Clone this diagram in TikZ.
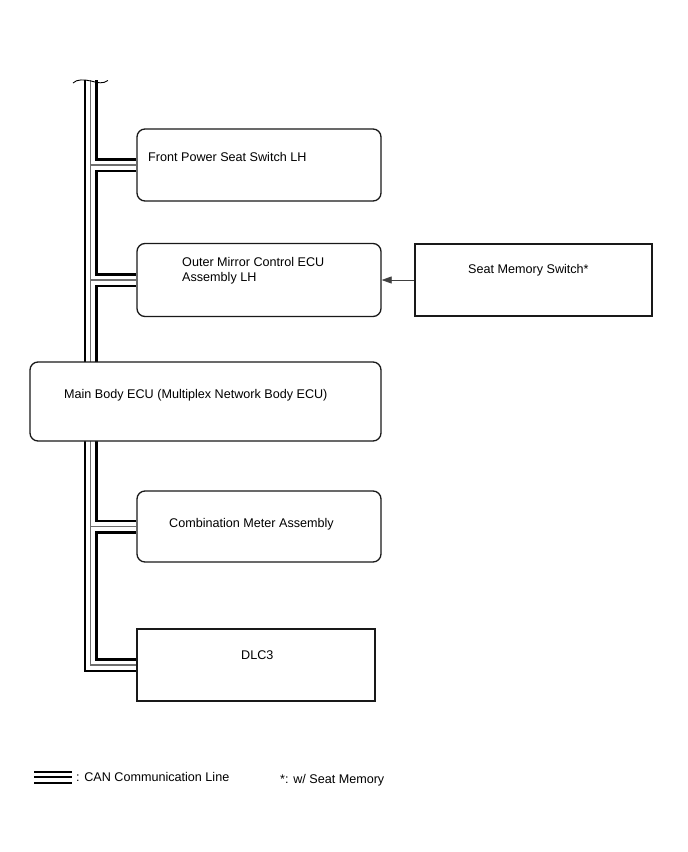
\documentclass[tikz,border=0pt]{standalone}
\usepackage{fontspec}
\setmainfont{Liberation Sans}
\usetikzlibrary{arrows.meta,backgrounds}
\definecolor{cangray}{RGB}{110,110,110}
\definecolor{boxcol}{RGB}{25,25,25}

\begin{document}
\begin{tikzpicture}[x=1pt,y=-1pt,
  rbox/.style={draw=boxcol,line width=1.3pt,fill=white,rounded corners=8pt},
  sbox/.style={draw=boxcol,line width=1.3pt,fill=white},
  txt/.style={anchor=west,inner sep=0pt,align=left,font=\fontsize{12.6}{14.5}\selectfont},
  canblk/.style={line width=14pt,line join=miter},
  canwht/.style={line width=9pt,white,line join=miter},
  cangry/.style={line width=1.4pt,cangray,line join=miter}]
\useasboundingbox (0,0) rectangle (688,852);
\node[rbox,minimum width=244pt,minimum height=72pt] (fps) at (259,165) {};
\node[rbox,minimum width=244pt,minimum height=73pt] (oms) at (259,280) {};
\node[sbox,minimum width=237pt,minimum height=72pt] (sms) at (533.5,280) {};
\node[rbox,minimum width=351pt,minimum height=79pt] (mbe) at (205.5,401.5) {};
\node[rbox,minimum width=244pt,minimum height=71pt] (cma) at (259,526.5) {};
\node[sbox,minimum width=238pt,minimum height=72pt] (dlc) at (256,665) {};
\coordinate (top) at (90.5,80);
\begin{scope}[on background layer]
\foreach \s in {canblk,canwht,cangry}
  \draw[\s] (top) -- (top |- dlc.west) -- (dlc.west)
    (top |- fps.west) -- (fps.west)
    (top |- oms.west) -- (oms.west)
    (top |- cma.west) -- (cma.west);
\end{scope}
\draw[line width=0.9pt] (73,83) .. controls (77,79) and (84,79.5) .. (91,81)
  .. controls (98,83) and (103,84) .. (108,80.5);
\node[txt] (fpst) at (148,157) {Front Power Seat Switch LH};
\node[txt] (omst) at (182,270.5) {Outer Mirror Control ECU\\Assembly LH};
\node[txt] (smst) at (468,270) {Seat Memory Switch*};
\node[txt] (mbet) at (64,395.5) {Main Body ECU (Multiplex Network Body ECU)};
\node[txt] (cmat) at (169,524) {Combination Meter Assembly};
\node[txt] (dlct) at (241,655) {DLC3};
\draw[-{Triangle[length=10pt,width=7pt]},line width=0.8pt,black!75] (sms) -- (oms);
\foreach \y in {772,777,783}
  \draw[line width=2.2pt] (34,\y) -- (72,\y);
\node[txt] (leg) at (76,777) {: CAN Communication Line};
\node[txt] (note) at (280,780) {*: w/ Seat Memory};
\end{tikzpicture}
\end{document}
